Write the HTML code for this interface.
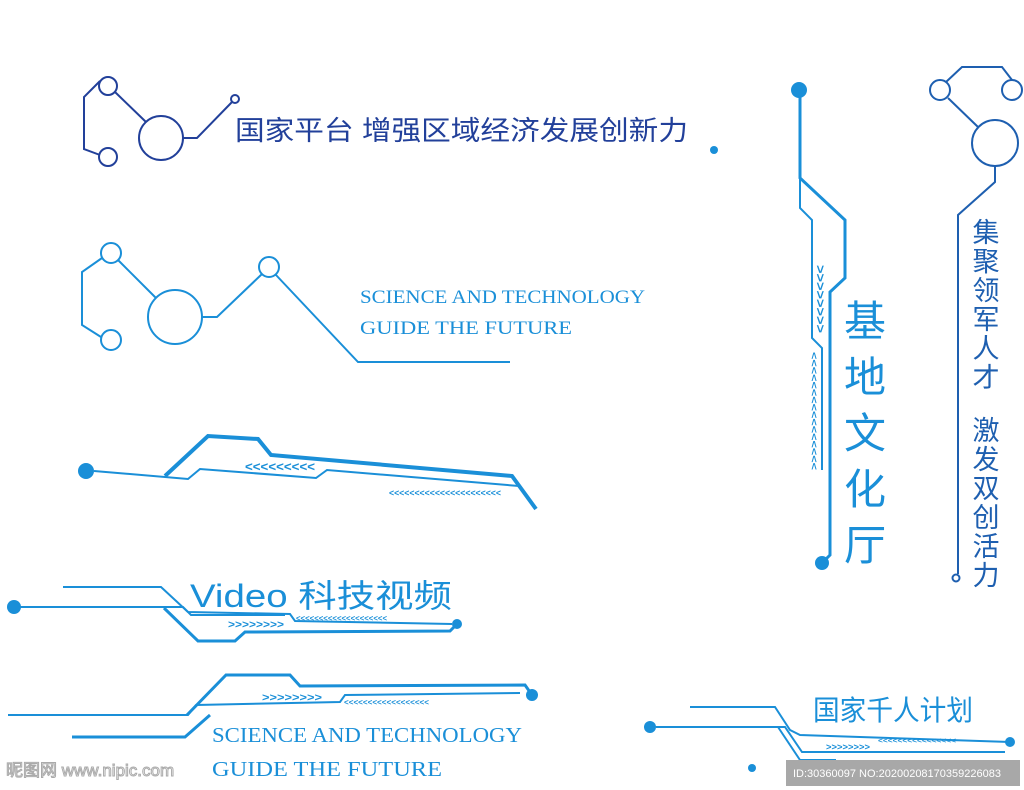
<!DOCTYPE html>
<html><head><meta charset="utf-8"><style>
html,body{margin:0;padding:0;background:#fff;}
svg{display:block}
.cj{font-family:"Liberation Sans","Noto Sans CJK SC",sans-serif;}
.sr{font-family:"Liberation Serif","DejaVu Serif",serif;}
.ch{font-family:"Liberation Sans",sans-serif;font-weight:bold;fill:#1a8fd8;}
</style></head><body>
<svg width="1024" height="790" viewBox="0 0 1024 790" xmlns="http://www.w3.org/2000/svg">
<!-- group 1 dark blue -->
<g stroke="#22409a" stroke-width="2" fill="none">
<circle cx="108" cy="86" r="9"/><circle cx="108" cy="157" r="9"/><circle cx="161" cy="138" r="22"/><circle cx="235" cy="99" r="4"/>
<polyline points="100,81 84,97 84,149 100,155"/>
<line x1="115" y1="92" x2="146" y2="122"/>
<polyline points="183,138 197,138 232,102"/>
</g>
<text x="235" y="140" class="cj" font-size="27" fill="#22409a" textLength="453" lengthAdjust="spacingAndGlyphs">国家平台 增强区域经济发展创新力</text>
<circle cx="714" cy="150" r="4" fill="#1a8fd8"/>
<!-- group 2 -->
<g stroke="#1a8fd8" stroke-width="2" fill="none">
<circle cx="111" cy="253" r="10"/><circle cx="111" cy="340" r="10"/><circle cx="175" cy="317" r="27"/><circle cx="269" cy="267" r="10"/>
<polyline points="102,258 82,272 82,325 101,337"/>
<line x1="118" y1="260" x2="156" y2="298"/>
<polyline points="202,317 217,317 262,274"/>
<polyline points="276,275 358,362 510,362"/>
</g>
<text x="360" y="303" class="sr" font-size="19" fill="#1a8fd8" textLength="285" lengthAdjust="spacingAndGlyphs">SCIENCE AND TECHNOLOGY</text>
<text x="360" y="334" class="sr" font-size="19" fill="#1a8fd8" textLength="212" lengthAdjust="spacingAndGlyphs">GUIDE THE FUTURE</text>
<!-- group 3 -->
<g stroke="#1a8fd8" fill="none">
<polyline stroke-width="4" points="165,476 208,436 258,439 271,455 512,476 536,509"/>
<polyline stroke-width="2" points="94,471 188,479 200,469 316,478 327,470 519,486"/>
</g>
<circle cx="86" cy="471" r="8" fill="#1a8fd8"/>
<text x="245" y="471" class="ch" font-size="13" textLength="70" lengthAdjust="spacingAndGlyphs">&lt;&lt;&lt;&lt;&lt;&lt;&lt;&lt;&lt;</text>
<text x="389" y="496" class="ch" font-size="9" textLength="112" lengthAdjust="spacingAndGlyphs">&lt;&lt;&lt;&lt;&lt;&lt;&lt;&lt;&lt;&lt;&lt;&lt;&lt;&lt;&lt;&lt;&lt;&lt;&lt;&lt;&lt;&lt;</text>
<!-- group 4 -->
<g stroke="#1a8fd8" fill="none">
<polyline stroke-width="2" points="63,587 161,587 188,612 290,614 295,621 452,624"/>
<polyline stroke-width="2" points="20,607 183,607 191,615 285,615"/>
<polyline stroke-width="3" points="164,608 198,641 235,641 245,632 450,631 457,624"/>
</g>
<circle cx="14" cy="607" r="7" fill="#1a8fd8"/>
<circle cx="457" cy="624" r="5" fill="#1a8fd8"/>
<text x="190" y="607" class="cj" font-size="32" fill="#1a8fd8" textLength="262" lengthAdjust="spacingAndGlyphs">Video 科技视频</text>
<text x="228" y="628" class="ch" font-size="11" textLength="56" lengthAdjust="spacingAndGlyphs">&gt;&gt;&gt;&gt;&gt;&gt;&gt;&gt;</text>
<text x="296" y="621" class="ch" font-size="8" textLength="91" lengthAdjust="spacingAndGlyphs">&lt;&lt;&lt;&lt;&lt;&lt;&lt;&lt;&lt;&lt;&lt;&lt;&lt;&lt;&lt;&lt;&lt;&lt;&lt;&lt;</text>
<!-- group 5 -->
<g stroke="#1a8fd8" fill="none">
<polyline stroke-width="3" points="187,715 226,675 290,675 300,686 525,685 532,695"/>
<polyline stroke-width="2" points="8,715 188,715 196,705 340,702 345,695 520,693"/>
<polyline stroke-width="3" points="72,737 185,737 210,715"/>
</g>
<circle cx="532" cy="695" r="6" fill="#1a8fd8"/>
<text x="262" y="701" class="ch" font-size="11" textLength="60" lengthAdjust="spacingAndGlyphs">&gt;&gt;&gt;&gt;&gt;&gt;&gt;&gt;</text>
<text x="344" y="705" class="ch" font-size="8" textLength="85" lengthAdjust="spacingAndGlyphs">&lt;&lt;&lt;&lt;&lt;&lt;&lt;&lt;&lt;&lt;&lt;&lt;&lt;&lt;&lt;&lt;&lt;&lt;</text>
<text x="212" y="742" class="sr" font-size="21" fill="#1a8fd8" textLength="310" lengthAdjust="spacingAndGlyphs">SCIENCE AND TECHNOLOGY</text>
<text x="212" y="776" class="sr" font-size="21" fill="#1a8fd8" textLength="230" lengthAdjust="spacingAndGlyphs">GUIDE THE FUTURE</text>
<text x="6" y="776" class="cj" font-size="17" fill="#fff" stroke="#aaa" stroke-width="1">昵图网 www.nipic.com</text>
<!-- group 6 -->
<g stroke="#1a8fd8" fill="none">
<polyline stroke-width="2" points="656,727 785,727 802,752 1005,752"/>
<polyline stroke-width="2" points="690,707 775,707 790,730 800,735 1010,742"/>
<polyline stroke-width="2" points="778,727 800,760 836,760"/>
</g>
<circle cx="650" cy="727" r="6" fill="#1a8fd8"/>
<circle cx="1010" cy="742" r="5" fill="#1a8fd8"/>
<circle cx="752" cy="768" r="4" fill="#1a8fd8"/>
<text x="813" y="720" class="cj" font-size="28" fill="#1a8fd8" textLength="160" lengthAdjust="spacingAndGlyphs">国家千人计划</text>
<text x="826" y="750" class="ch" font-size="9" textLength="44" lengthAdjust="spacingAndGlyphs">&gt;&gt;&gt;&gt;&gt;&gt;&gt;&gt;</text>
<text x="878" y="743" class="ch" font-size="7" textLength="78" lengthAdjust="spacingAndGlyphs">&lt;&lt;&lt;&lt;&lt;&lt;&lt;&lt;&lt;&lt;&lt;&lt;&lt;&lt;&lt;&lt;</text>
<rect x="786" y="760" width="234" height="26" fill="#a8a8a8"/>
<text x="793" y="777" class="cj" font-size="11" fill="#fff">ID:30360097 NO:20200208170359226083</text>
<!-- vertical 1 -->
<g stroke="#1a8fd8" fill="none">
<polyline stroke-width="3" points="800,95 800,178 845,220 845,278 830,292 830,555 822,563"/>
<polyline stroke-width="2" points="800,178 800,208 812,220 812,338 822,348 822,470"/>
</g>
<circle cx="799" cy="90" r="8" fill="#1a8fd8"/>
<circle cx="822" cy="563" r="7" fill="#1a8fd8"/>
<text class="ch" font-size="13" textLength="68" lengthAdjust="spacingAndGlyphs" transform="translate(816,265) rotate(90)">&gt;&gt;&gt;&gt;&gt;&gt;&gt;&gt;</text>
<text class="ch" font-size="9" textLength="118" lengthAdjust="spacingAndGlyphs" transform="translate(811,352) rotate(90)">&lt;&lt;&lt;&lt;&lt;&lt;&lt;&lt;&lt;&lt;&lt;&lt;&lt;&lt;&lt;&lt;</text>
<g class="cj" font-size="42" fill="#1a8fd8" text-anchor="middle">
<text x="865" y="336">基</text><text x="865" y="392">地</text><text x="865" y="448">文</text><text x="865" y="504">化</text><text x="865" y="560">厅</text>
</g>
<!-- vertical 2 -->
<g stroke="#1e5fb0" stroke-width="2" fill="none">
<circle cx="940" cy="90" r="10"/><circle cx="1012" cy="90" r="10"/><circle cx="995" cy="143" r="23"/>
<polyline points="946,82 962,67 1002,67 1012,80"/>
<line x1="948" y1="98" x2="978" y2="127"/>
<polyline points="995,166 995,182 958,215 958,574"/>
<circle cx="956" cy="578" r="3.5"/>
</g>
<g class="cj" font-size="27" fill="#1e5fb0" text-anchor="middle">
<text x="986" y="242">集</text><text x="986" y="271">聚</text><text x="986" y="300">领</text><text x="986" y="329">军</text><text x="986" y="358">人</text><text x="986" y="387">才</text>
<text x="986" y="440">激</text><text x="986" y="469">发</text><text x="986" y="498">双</text><text x="986" y="527">创</text><text x="986" y="556">活</text><text x="986" y="585">力</text>
</g>
</svg>
</body></html>
